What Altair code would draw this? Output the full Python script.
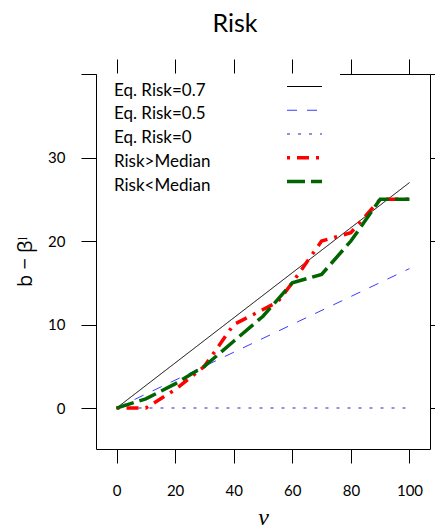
import altair as alt
import pandas as pd

# ---------------- data ----------------
series = ["Eq. Risk=0.7", "Eq. Risk=0.5", "Eq. Risk=0", "Risk>Median", "Risk<Median"]

nu_eq = [0, 100]
eq_07 = [0, 27.0]
eq_05 = [0, 16.7]
eq_00 = [0, 0]

nu_hi = [0, 10, 20, 30, 40, 50, 55, 60, 70, 80, 90, 100]
risk_hi = [0, 0, 2.2, 5, 10, 11.8, 12.7, 15, 20, 21, 25, 25]

nu_lo = [0, 10, 20, 30, 40, 50, 60, 70, 80, 90, 100]
risk_lo = [0, 1.1, 2.9, 5, 8, 11, 15, 16, 20, 25, 25]

x_ticks = [0, 20, 40, 60, 80, 100]
y_ticks = [0, 10, 20, 30, 40]

# ---------------- styles ----------------
colors = ["black", "#3a3aff", "#6f6fd0", "#ff0000", "#006400"]
dashes = [[1, 0], [10, 10], [3, 8], [3, 7, 12, 7], [18, 6]]
widths = [1, 1, 1.5, 3.5, 3.5]

rows = []
for name, xs_, ys_ in zip(series, [nu_eq, nu_eq, nu_eq, nu_hi, nu_lo],
                          [eq_07, eq_05, eq_00, risk_hi, risk_lo]):
    for i, (a, b) in enumerate(zip(xs_, ys_)):
        rows.append({"series": name, "nu": a, "val": b, "i": i})
df = pd.DataFrame(rows)
legend_df = pd.DataFrame({"series": series})

X_DOM = [-7, 107]
Y_DOM = [-4.9, 40]
xscale = alt.Scale(domain=X_DOM, nice=False, zero=False)
yscale = alt.Scale(domain=Y_DOM, nice=False, zero=False)

FONT = "Lato"

bottom_axis = alt.Axis(orient="bottom", values=x_ticks, tickSize=14, labelPadding=20,
                       labelFontSize=15, labelFont=FONT, labelFlush=False, labelOverlap=False,
                       title="ν", titleFont="Liberation Serif", titleFontStyle="italic",
                       titleFontSize=24, titleFontWeight="normal", titleX=167, titleY=75,
                       titleBaseline="alphabetic", titleAlign="center", zindex=0)
left_axis = alt.Axis(orient="left", values=y_ticks,
                     labelExpr="datum.value == 40 ? '' : datum.label",
                     tickSize=15, labelPadding=16, labelFontSize=15, labelFont=FONT,
                     labelOverlap=False, labelFlush=False,
                     title="b − βˡ", titleFont="Open Sans", titleFontSize=20,
                     titleFontWeight="normal", titleAngle=270, titleX=-71, titleY=187.5,
                     titleBaseline="middle", titleAlign="center", zindex=0)
top_axis = alt.Axis(orient="top", values=x_ticks, tickSize=15, labels=False, title="", zindex=0)
right_axis = alt.Axis(orient="right", values=y_ticks, tickSize=13, labels=False, title="", zindex=0)


def line_layer(k, xaxis=None, yaxis=None, opacity=1.0):
    return alt.Chart(df).transform_filter(alt.datum.series == series[k]).mark_line(
        color=colors[k], strokeDash=dashes[k], strokeWidth=widths[k], opacity=opacity
    ).encode(
        x=alt.X("nu:Q", scale=xscale, axis=xaxis),
        y=alt.Y("val:Q", scale=yscale, axis=yaxis),
        order="i:Q",
    )


frame_axes = line_layer(0, xaxis=top_axis, yaxis=right_axis, opacity=0.0)
lines = [line_layer(0, xaxis=bottom_axis, yaxis=left_axis)] + [line_layer(k) for k in range(1, 5)]

legend_box = alt.Chart(alt.Data(values=[{}])).mark_rect(fill="white").encode(
    x=alt.value(1), x2=alt.value(244), y=alt.value(-0.5), y2=alt.value(126)
)

leg_y = alt.Y("series:N", scale=alt.Scale(type="point", domain=series, range=[12.5, 107.5], padding=0),
              axis=None)

legend_text = alt.Chart(legend_df).mark_text(
    align="left", baseline="middle", dy=4, fontSize=17, font=FONT, color="black"
).encode(x=alt.value(18), y=leg_y, text="series:N")

legend_samples = [
    alt.Chart(legend_df).transform_filter(alt.datum.series == series[k]).mark_rule(
        color=colors[k], strokeDash=dashes[k], strokeWidth=widths[k]
    ).encode(x=alt.value(191), x2=alt.value(226), y=leg_y)
    for k in range(5)
]

chart = alt.layer(
    frame_axes, legend_box, *lines, legend_text, *legend_samples
).resolve_scale(
    y="independent"
).resolve_axis(
    x="independent", y="independent"
).properties(
    width=334, height=375,
    autosize=alt.AutoSizeParams(type="none"),
    padding={"left": 88, "top": 66, "right": 5, "bottom": 80},
    title=alt.TitleParams("Risk", fontSize=25, font=FONT, fontWeight="normal", anchor="middle",
                          frame="group", dx=-28, offset=2, baseline="alphabetic", color="black"),
).configure_view(
    strokeWidth=0
).configure_axis(
    domainColor="black", tickColor="black", labelColor="black", titleColor="black",
    domainWidth=1, tickWidth=1, grid=False
)

chart.save("out.html", embed_options={"renderer": "svg", "actions": False})
